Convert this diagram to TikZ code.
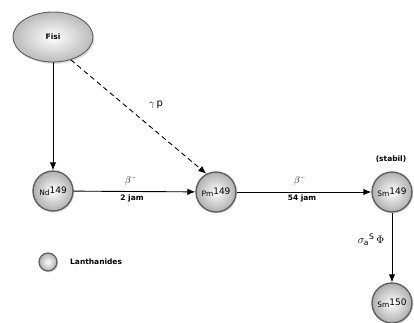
\documentclass[tikz,border=0pt]{standalone}
\usepackage{fontspec}
\setmainfont{DejaVu Sans}
\usetikzlibrary{arrows.meta,shadows,shapes.geometric}
\definecolor{rimgray}{RGB}{95,95,95}
\definecolor{ballgray}{RGB}{175,175,175}
\newcommand{\iso}[2]{{\fontsize{7.5}{8}\selectfont #1}\raisebox{2.5bp}{\fontsize{9}{10}\selectfont #2}}
\tikzset{
  txt/.style={font=\fontsize{7}{8}\selectfont, inner sep=0pt},
  boldtxt/.style={font=\fontsize{7.5}{8.5}\selectfont\bfseries, inner sep=0pt},
  nuclide/.style={circle, minimum size=40bp, inner sep=0pt, draw=rimgray, line width=1.4pt,
    inner color=white, outer color=ballgray,
    drop shadow={shadow xshift=1.2pt, shadow yshift=-1.5pt, opacity=0.25}},
  source/.style={ellipse, minimum width=80bp, minimum height=50bp, inner sep=0pt, draw=rimgray, line width=0.9pt,
    inner color=white, outer color=ballgray!85,
    drop shadow={shadow xshift=1.5pt, shadow yshift=-2pt, opacity=0.25},
    font=\fontsize{7.5}{8.5}\selectfont\bfseries},
  flow/.style={-{Latex[length=8bp,width=6.5bp]}, line width=0.9pt, black},
}
\begin{document}
\begin{tikzpicture}[x=1bp,y=-1bp]
  \useasboundingbox (0,0) rectangle (414,323);
  % the fission source and the decay chain
  \node[source]  (fisi) at (53,37)  {Fisi};
  \node[nuclide] (nd)   at (53,191) {\iso{Nd}{149}};
  \node[nuclide] (pm)   at (216,192) {\iso{Pm}{149}};
  \node[nuclide] (sm9)  at (392,192) {\iso{Sm}{149}};
  \node[nuclide] (sm0)  at (392,303) {\iso{Sm}{150}};
  % connectors
  \draw[flow] (fisi) -- (nd);
  \draw[flow, dashed, dash pattern=on 5bp off 3.5bp] (fisi.-52) -- (pm.118);
  \draw[flow] (nd) -- (pm);
  \draw[flow] (pm) -- (sm9);
  \draw[flow] (sm9) -- (sm0);
  % labels
  \node[txt,font=\fontsize{10}{11}\selectfont] (gp)  at (156,105) {$\gamma$\,p};
  \node[txt,font=\fontsize{10}{11}\selectfont] (b1)  at (131,181) {$\beta^{\scriptscriptstyle -}$};
  \node[boldtxt] (t1)  at (132,198) {2 jam};
  \node[txt,font=\fontsize{10}{11}\selectfont] (b2)  at (300,181) {$\beta^{\scriptscriptstyle -}$};
  \node[boldtxt] (t2)  at (302,198) {54 jam};
  \node[boldtxt,font=\fontsize{7.5}{8.5}\selectfont\bfseries] (st) at (391,159) {(stabil)};
  \node[txt,font=\fontsize{11}{12}\selectfont] (sig) at (371,240) {$\sigma_{\mathrm{a}}{}^{\mathrm{S}}\,\Phi$};
  % legend
  \node[nuclide, minimum size=18bp, line width=1.2pt] (lg) at (48,262) {};
  \node[boldtxt,font=\fontsize{7.5}{8.5}\selectfont\bfseries, anchor=west] (lt) at (70,262) {Lanthanides};
\end{tikzpicture}
\end{document}
